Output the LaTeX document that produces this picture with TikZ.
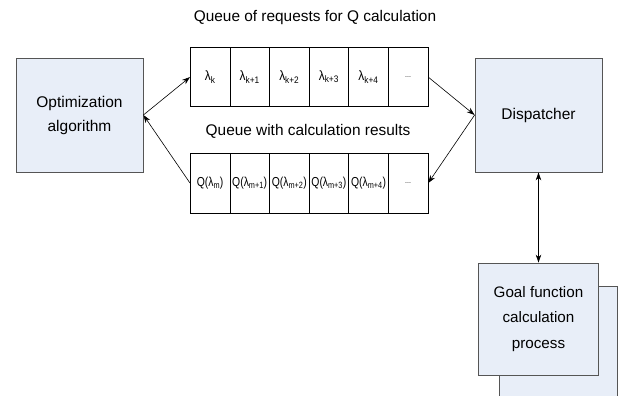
\documentclass[tikz,border=0pt]{standalone}
\usepackage{fontspec}
\setmainfont{Liberation Sans}
\usetikzlibrary{arrows.meta}
\definecolor{boxfill}{RGB}{232,238,248}
\definecolor{boxline}{RGB}{85,85,85}
\newcommand{\lcell}[1]{\scalebox{0.88}[1]{#1}}
\newcommand{\qcellt}[1]{\scalebox{0.8}[1]{#1}}
\begin{document}
\begin{tikzpicture}[x=1pt,y=-1pt,
  procbox/.style={draw=boxline, fill=boxfill, line width=0.8pt, inner sep=0pt, align=center, font=\fontsize{15.5}{24}\selectfont},
  cell/.style={draw=black, fill=white, line width=0.6pt, minimum width=39.6pt, minimum height=59.5pt, inner sep=0pt, anchor=north west, font=\fontsize{13.5}{15}\selectfont},
  qcell/.style={cell, font=\fontsize{13}{15}\selectfont},
  title/.style={font=\fontsize{15.4}{18}\selectfont},
  conn/.style={line width=0.6pt, -{Stealth[length=8pt,width=5.5pt]}},
  dconn/.style={line width=0.6pt, {Stealth[length=8pt,width=5.5pt]}-{Stealth[length=8pt,width=5.5pt]}}
]
\useasboundingbox (0,0) rectangle (619,396);

% process boxes
\node[procbox, minimum width=127pt, minimum height=114pt] (opt) at (79.5,115) {Optimization\\algorithm};
\node[procbox, minimum width=127pt, minimum height=114pt] (disp) at (538.5,115) {Dispatcher};

% back copy of goal box
\fill[boxfill] (499,286) rectangle (617.5,396);
\draw[boxline, line width=0.8pt] (499,396) -- (499,286) -- (617.5,286) -- (617.5,396);
\node[procbox, minimum width=120pt, minimum height=112pt, font=\fontsize{15.2}{25.5}\selectfont] (goal) at (538.5,319) {Goal function\\calculation\\process};

% titles
\node[title] (t1) at (315,18) {Queue of requests for Q calculation};
\node[title] (t2) at (308,131) {Queue with calculation results};

% request queue
\node[cell] (r1) at (190,47) {\lcell{λ\textsubscript{k}}};
\node[cell] (r2) at (229.6,47) {\lcell{λ\textsubscript{k+1}}};
\node[cell] (r3) at (269.2,47) {\lcell{λ\textsubscript{k+2}}};
\node[cell] (r4) at (308.8,47) {\lcell{λ\textsubscript{k+3}}};
\node[cell] (r5) at (348.4,47) {\lcell{λ\textsubscript{k+4}}};
\node[cell, font=\fontsize{7}{8}\selectfont] (r6) at (388,47) {...};

% result queue
\node[qcell] (q1) at (190,153) {\qcellt{Q(λ\textsubscript{m})}};
\node[qcell] (q2) at (229.6,153) {\qcellt{Q(λ\textsubscript{m+1})}};
\node[qcell] (q3) at (269.2,153) {\qcellt{Q(λ\textsubscript{m+2})}};
\node[qcell] (q4) at (308.8,153) {\qcellt{Q(λ\textsubscript{m+3})}};
\node[qcell] (q5) at (348.4,153) {\qcellt{Q(λ\textsubscript{m+4})}};
\node[qcell, font=\fontsize{7}{8}\selectfont] (q6) at (388,153) {...};

% connectors
\draw[conn] (opt.east) -- (r1.west);
\draw[conn] (q1.west) -- (opt.east);
\draw[conn] (r6.east) -- (disp.west);
\draw[conn] (disp.west) -- (q6.east);
\draw[dconn] (disp.south) -- (goal.north);
\end{tikzpicture}
\end{document}
